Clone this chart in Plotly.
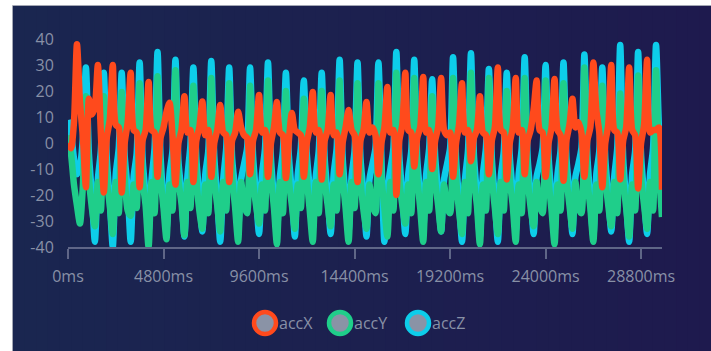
import plotly.graph_objects as go

# Accelerometer samples (one every 150 ms), three axes
SAMPLE_MS = 150

acc_x = [
    0, -2, 8, 38, 16, 2, -17, 17, 11, 14, 30, 4,
    -19, 2, 9, 30, 7, 6, -19, 0, 8, 27, 5, 4,
    -17, 1, 5, 23.5, 5, 4, -13, 2, 6, 12, 15.5, 3,
    -16, 0, 5, 18, 4, 5, -15, 1, 6, 16, 3, 5,
    -13, 0, 5, 14.6, 4, 3, -15, 1, 4, 12, 6, 3,
    2, -12, 1, 5, 18.5, 4, 5, -13, 0, 6, 15.8, 4,
    3, -13.5, 1, 11.5, 5, 4, 3, -13, 0, 6, 19.6, 4,
    5, -14, 1, 5, 18.5, 3, 4, -12, 0, 6, 12.7, 5,
    3, -15, 1, 5, 15.8, 4, 6, 3, -12, 0, 6, 21.5,
    4, 5, -20, 1, 7, 27, 5, 4, -9, 2, 6, 25.4,
    4, 5, -10, 1, 6, 25, 5, 3, 4, -13, 0, 7,
    23, 4, 5, -7, 2, 5, 18, 4, 3, -12, 1, 6,
    29, 5, 4, -14, 0, 6, 25, 4, 5, -12, 1, 5,
    13, 24, 5, 4, -13, 0, 6, 24.6, 5, 3, -14.5, 1,
    7, 17, 6, 8, 4, -13, 1, 6, 31, 12.7, 4, -17,
    0, 7, 30, 5, 4, -14, 1, 6, 29, 5, 3, -17.5,
    0, 7, 32, 4, 5, 5, 6, -18,
]

acc_y = [
    3, -4, -16, -24, -31, -16, 18, -13, -25, -32, -15, -26,
    18, -14, -24, -35, -15, -27, 19.6, -13, -26, -28, -16, -25,
    23, -14, -24, -40, -15, -27, 25.7, -13, -25, -37, -16, -26,
    28, -14, -23, -35.5, -15, -25, 22, -13, -26, -33, -16, -27,
    25, -14, -24, -34, -15, -26, 23, -13, -25, -38, -15, -24,
    -27, 22, -14, -24, -31, -16, -26, 24, -13, -25, -39, -15,
    -27, 20, -14, -24, -33, -16, -25, 17, -13, -26, -38, -15,
    -27, 20, -14, -24, -32, -16, -26, 24, -13, -25, -38, -15,
    -25, 23, -14, -26, -33, -16, -24, -27, 23, -13, -25, -36,
    -15, -26, 27, -14, -24, -31, -16, -27, 25, -13, -25, -38,
    -15, -26, 18, -14, -24, -34, -16, -25, -27, 25, -13, -26,
    -35, -15, -27, 27, -14, -24, -39, -16, -26, 25, -13, -25,
    -35, -15, -26, 20, -14, -24, -38, -16, -27, 25, -13, -25,
    -32, -15, -24, -27, 24, -14, -26, -39, -16, -26, 23, -13,
    -24, -33, -15, -25, -27, 29, -14, -25, -38, -16, -26, 22,
    -13, -24, -32, -15, -27, 19, -14, -25, -36, -16, -26, 26,
    -13, -24, -33, -15, -26, 28, -10, -28.5,
]

acc_z = [
    8.8, 4, -6, -12, -9, 2, 29, -4, -20, -38, -14, -3,
    27, -6, -22, -40, -12, -2, 27, -5, -18, -38, -13, -4,
    31, -6, -20, -34, -14, -2, 35, -5, -22, -33, -12, -3,
    32, -7, -19, -36, -13, -1, 29, -6, -20, -34, -12, -3,
    31.5, -5, -21, -38, -14, -2, 29, -6, -18, -33, -14, -8,
    -2, 29, -5, -20, -35, -12, -2, 31, -6, -21, -34, -13,
    -3, 27, -5, -19, -36, -12, -2, 24, -4, -18, -33, -13,
    -3, 27, -6, -20, -35, -12, -2, 32, -5, -21, -34, -13,
    -3, 31, -6, -19, -36, -14, -8, -2, 31, -6, -38, -18,
    -10, -2, 35, -5, -20, -35, -12, -3, 32, -6, -20, -33,
    -12, -2, 24.5, -5, -19, -34, -14, -8, -2, 33, -6, -22,
    -38, -14, -3, 34.5, -5, -20, -36, -12, -2, 28.5, -6, -21,
    -38, -13, -3, 27, -5, -19, -34, -12, -2, 33, -6, -20,
    -35, -13, -8, -2, 30, -5, -21, -34, -12, -3, 31, -6,
    -19, -35, -13, -8, -2, 34, -5, -22, -36, -12, -3, 29,
    -6, -20, -34, -13, -2, 37.7, -6, -22, -38, -12, -3, 35,
    -5, -20, -35, -12, -2, 37.7, 5, -14,
]

time_ms = [i * SAMPLE_MS for i in range(len(acc_x))]

x_tick_vals = [0, 4800, 9600, 14400, 19200, 24000, 28800]
x_tick_text = ["0ms", "4800ms", "9600ms", "14400ms", "19200ms", "24000ms", "28800ms"]
y_tick_vals = [-40, -30, -20, -10, 0, 10, 20, 30, 40]
y_tick_text = ["-40", "-30", "-20", "-10", "0", "10", "20", "30", "40"]

series_names = ["accX", "accY", "accZ"]
series_colors = ["#FF4A1C", "#1FCE8A", "#0DCDEA"]

W, H = 711, 351
M_L, M_R, M_T, M_B = 68, 49, 39, 104
PW, PH = W - M_L - M_R, H - M_T - M_B

TEXT_GRAY = "#8890A6"
AXIS_GRAY = "#5F6687"


def px_x(px):
    return (px - M_L) / PW


def px_y(py):
    return (H - M_B - py) / PH


fig = go.Figure()

# Z first, then Y, then X so X sits on top
for name, vals, color in [
    ("accZ", acc_z, series_colors[2]),
    ("accY", acc_y, series_colors[1]),
    ("accX", acc_x, series_colors[0]),
]:
    fig.add_trace(go.Scatter(
        x=time_ms, y=vals, name=name, mode="lines",
        line=dict(color=color, width=6.5, shape="spline", smoothing=0.7),
        showlegend=False, hoverinfo="skip",
    ))

shapes = []

# Card background: horizontal navy -> indigo gradient built from thin strips
left_rgb = (26, 38, 80)
right_rgb = (30, 26, 78)
card_x0, card_x1, card_y0, card_y1 = 13, W, 6, H
n_strips = 60
for k in range(n_strips):
    f = k / (n_strips - 1)
    c = tuple(round(a + (b - a) * f) for a, b in zip(left_rgb, right_rgb))
    sx0 = card_x0 + (card_x1 - card_x0) * k / n_strips
    sx1 = card_x0 + (card_x1 - card_x0) * (k + 1) / n_strips + 1
    shapes.append(dict(
        type="rect", xref="paper", yref="paper", layer="below",
        x0=px_x(sx0), x1=px_x(min(sx1, W + 1)),
        y0=px_y(card_y1), y1=px_y(card_y0),
        fillcolor="rgb(%d,%d,%d)" % c, line=dict(width=0),
    ))

# Thin frame on the card's left and top edges
shapes.append(dict(type="line", xref="paper", yref="paper", layer="below",
                   x0=px_x(12.5), x1=px_x(12.5), y0=px_y(H), y1=px_y(5.5),
                   line=dict(color="#A3A7B4", width=1)))
shapes.append(dict(type="line", xref="paper", yref="paper", layer="below",
                   x0=px_x(12.5), x1=px_x(W), y0=px_y(5.5), y1=px_y(5.5),
                   line=dict(color="#A3A7B4", width=1)))

# Legend: ringed circles with labels
legend_cx = [265, 340, 418]
legend_cy = 323
annotations = []
for cx, name, color in zip(legend_cx, series_names, series_colors):
    shapes.append(dict(
        type="circle", xref="paper", yref="paper",
        xsizemode="pixel", ysizemode="pixel",
        xanchor=px_x(cx), yanchor=px_y(legend_cy),
        x0=-11, x1=11, y0=-11, y1=11,
        fillcolor="#8A93A6", line=dict(color=color, width=4.5),
    ))
    annotations.append(dict(
        xref="paper", yref="paper", x=px_x(cx + 12), y=px_y(legend_cy),
        xanchor="left", yanchor="middle", showarrow=False,
        text=name, font=dict(size=16, color=TEXT_GRAY),
    ))

fig.update_layout(
    width=W, height=H,
    margin=dict(l=M_L, r=M_R, t=M_T, b=M_B, pad=0),
    paper_bgcolor="white",
    plot_bgcolor="rgba(0,0,0,0)",
    font=dict(family="Open Sans", size=16, color=TEXT_GRAY),
    showlegend=False,
    shapes=shapes,
    annotations=annotations,
    xaxis=dict(
        range=[0, time_ms[-1]],
        tickmode="array", tickvals=x_tick_vals, ticktext=x_tick_text,
        showgrid=False, zeroline=False,
        showline=True, linecolor=AXIS_GRAY, linewidth=1.5,
        ticks="outside", ticklen=10, tickwidth=1.5, tickcolor=AXIS_GRAY,
        ticklabelstandoff=4,
        tickfont=dict(size=16, color=TEXT_GRAY),
    ),
    yaxis=dict(
        range=[-40, 40],
        tickmode="array", tickvals=y_tick_vals, ticktext=y_tick_text,
        showgrid=False, zeroline=False, showline=False,
        ticks="outside", ticklen=10, tickcolor="rgba(0,0,0,0)",
        tickfont=dict(size=16, color=TEXT_GRAY),
    ),
)

fig.write_html("out.html")
